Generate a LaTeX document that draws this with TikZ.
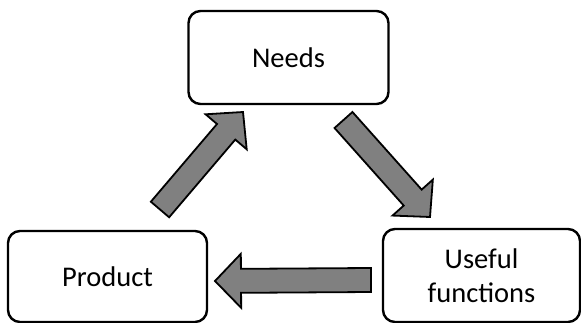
\documentclass[tikz,border=0pt]{standalone}
\usepackage{fontspec}
\setmainfont{Carlito}
\usetikzlibrary{calc}
\tikzset{
  box/.style={draw=black, line width=2.4pt, rounded corners=12pt, fill=white,
    inner sep=0pt, align=center, font=\fontsize{28.5}{34}\selectfont},
  arrowfill/.style={fill={rgb,255:red,128;green,128;blue,128}, draw=black, line width=1.8pt, line join=miter}
}
\newcommand\blockarr[2]{%
  \coordinate (hb) at ($(#2)!26pt!(#1)$);
  \draw[arrowfill] ($(#1)!12pt!90:(#2)$) -- ($(hb)!12pt!90:(#2)$) -- ($(hb)!27pt!90:(#2)$)
    -- (#2) -- ($(hb)!27pt!-90:(#2)$) -- ($(hb)!12pt!-90:(#2)$) -- ($(#1)!12pt!-90:(#2)$) -- cycle;
}
\begin{document}
\begin{tikzpicture}[x=1pt,y=-1pt]
\useasboundingbox (0,0) rectangle (581,323);
\node[box, minimum width=200pt, minimum height=93pt] (needs) at (288.5,57.5) {Needs};
\node[box, minimum width=199pt, minimum height=91pt] (product) at (107.5,276.5) {Product};
\node[box, minimum width=197pt, minimum height=93pt] (useful) at (481.5,275.5) {Useful\\functions};
% arrow ends
\coordinate (a1t) at (160,209.5);
\coordinate (a1h) at (243,112);
\coordinate (a2t) at (343.5,120);
\coordinate (a2h) at (430,217);
\coordinate (a3t) at (371,280);
\coordinate (a3h) at (215,281);
\blockarr{a1t}{a1h}
\blockarr{a2t}{a2h}
\blockarr{a3t}{a3h}
\end{tikzpicture}
\end{document}
